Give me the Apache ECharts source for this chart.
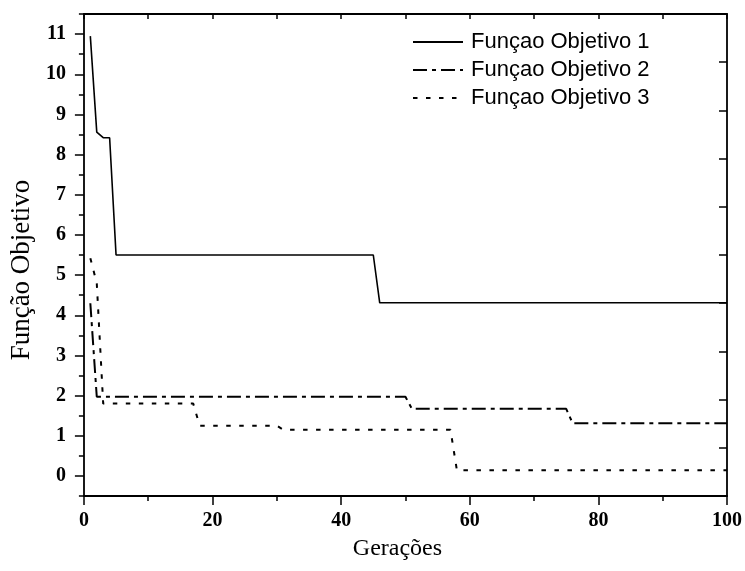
<!DOCTYPE html>
<html>
<head>
<meta charset="utf-8">
<script src="https://cdn.jsdelivr.net/npm/echarts@6/dist/echarts.min.js"></script>
<style>
  html, body { margin: 0; padding: 0; background: #fff; }
  #chart { width: 745px; height: 571px; }
</style>
</head>
<body>
<div id="chart"></div>
<script>
// Objective value per generation (change points of each curve)
const seriesNames = ['Funçao Objetivo 1', 'Funçao Objetivo 2', 'Funçao Objetivo 3'];

const gens1 = [1, 2, 3, 4, 5, 45, 46, 100];
const obj1  = [10.95, 8.56, 8.42, 8.42, 5.5, 5.5, 4.31, 4.31];

const gens2 = [1, 2, 50, 51, 75, 76, 100];
const obj2  = [4.3, 1.97, 1.97, 1.67, 1.67, 1.31, 1.31];

const gens3 = [1, 2, 3, 17, 18, 30, 31, 57, 58, 100];
const obj3  = [5.42, 4.8, 1.8, 1.8, 1.25, 1.25, 1.15, 1.15, 0.14, 0.14];

// Tick values
const yMajorTicks = [0, 1, 2, 3, 4, 5, 6, 7, 8, 9, 10, 11];
const yMinorTicks = [-0.5, 0.5, 1.5, 2.5, 3.5, 4.5, 5.5, 6.5, 7.5, 8.5, 9.5, 10.5, 11.5];
const yRightTicks = [0.7, 1.9, 3.1, 4.3, 5.5, 6.7, 7.9, 9.1, 10.3];

const pairs = (xs, ys) => xs.map((x, i) => [x, ys[i]]);

const ink = '#000';
const axisLine = { show: true, onZero: false, lineStyle: { color: ink, width: 1.8 } };
const tickFont = { fontFamily: 'Liberation Serif', fontWeight: 'bold', fontSize: 20, color: ink };

const chart = echarts.init(document.getElementById('chart'), null, { renderer: 'canvas' });

chart.setOption({
  animation: false,
  backgroundColor: '#fff',
  grid: { left: 82, right: 17, top: 14, bottom: 75, containLabel: false },
  legend: {
    orient: 'vertical',
    left: 407,
    top: 26,
    itemWidth: 50,
    itemHeight: 14,
    itemGap: 6,
    selectedMode: false,
    data: seriesNames,
    itemStyle: { opacity: 0 },
    textStyle: { fontFamily: 'Liberation Sans', fontSize: 22, color: ink, padding: [0, 0, 0, 3] }
  },
  xAxis: [
    {
      type: 'value', position: 'bottom', min: 0, max: 100, interval: 20,
      axisLine: axisLine,
      axisTick: { show: true, inside: false, length: 9, lineStyle: { color: ink, width: 1.5 } },
      minorTick: { show: true, splitNumber: 2, length: 5, lineStyle: { color: ink, width: 1.5 } },
      axisLabel: Object.assign({ margin: 15 }, tickFont),
      splitLine: { show: false },
      minorSplitLine: { show: false },
      name: 'Gerações',
      nameLocation: 'middle',
      nameGap: 41,
      nameTextStyle: { fontFamily: 'Liberation Serif', fontSize: 24, color: ink, padding: [0, 16, 0, 0] }
    },
    {
      type: 'value', position: 'top', min: 0, max: 100, interval: 10,
      axisLine: axisLine,
      axisTick: { show: true, inside: true, length: 5, lineStyle: { color: ink, width: 1.5 } },
      axisLabel: { show: false },
      splitLine: { show: false }
    }
  ],
  yAxis: [
    {
      type: 'value', position: 'left', min: -0.5, max: 11.5,
      axisLine: axisLine,
      axisTick: { show: true, inside: false, length: 9, customValues: yMajorTicks, lineStyle: { color: ink, width: 1.5 } },
      axisLabel: Object.assign({ margin: 18, customValues: yMajorTicks }, tickFont),
      splitLine: { show: false },
      name: 'Função Objetivo',
      nameLocation: 'middle',
      nameRotate: 90,
      nameGap: 42,
      nameTextStyle: { fontFamily: 'Liberation Serif', fontSize: 27, color: ink, padding: [0, 30, 0, 0] }
    },
    {
      type: 'value', position: 'left', min: -0.5, max: 11.5,
      axisLine: { show: false, onZero: false },
      axisTick: { show: true, inside: false, length: 5, customValues: yMinorTicks, lineStyle: { color: ink, width: 1.5 } },
      axisLabel: { show: false },
      splitLine: { show: false }
    },
    {
      type: 'value', position: 'right', min: -0.5, max: 11.5,
      axisLine: axisLine,
      axisTick: { show: true, inside: true, length: 8, customValues: yRightTicks, lineStyle: { color: ink, width: 1.5 } },
      axisLabel: { show: false },
      splitLine: { show: false }
    }
  ],
  series: [
    {
      name: seriesNames[0], type: 'line', xAxisIndex: 0, yAxisIndex: 0,
      symbol: 'none', data: pairs(gens1, obj1),
      lineStyle: { color: ink, width: 1.6, type: 'solid' },
      itemStyle: { color: ink }
    },
    {
      name: seriesNames[1], type: 'line', xAxisIndex: 0, yAxisIndex: 0,
      symbol: 'none', data: pairs(gens2, obj2),
      lineStyle: { color: ink, width: 2, type: [14, 5, 4, 5] },
      itemStyle: { color: ink }
    },
    {
      name: seriesNames[2], type: 'line', xAxisIndex: 0, yAxisIndex: 0,
      symbol: 'none', data: pairs(gens3, obj3),
      lineStyle: { color: ink, width: 2, type: [4.5, 8.5] },
      itemStyle: { color: ink }
    }
  ]
});
</script>
</body>
</html>
